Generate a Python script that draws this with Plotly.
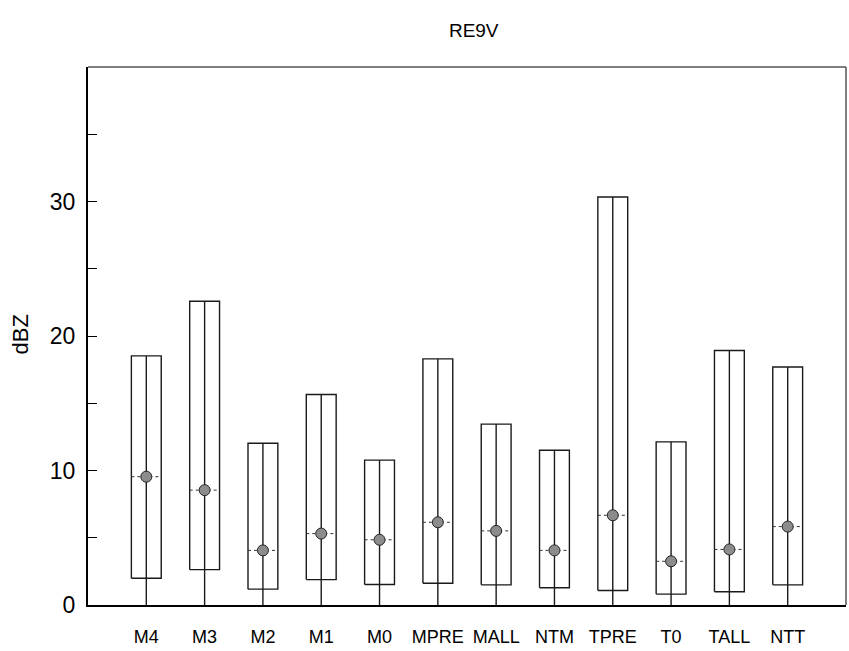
import plotly.graph_objects as go

# Radar reflectivity summary per category (dBZ)
categories = ["M4", "M3", "M2", "M1", "M0", "MPRE", "MALL", "NTM", "TPRE", "T0", "TALL", "NTT"]
box_low = [1.99, 2.63, 1.18, 1.89, 1.52, 1.62, 1.50, 1.28, 1.08, 0.81, 0.98, 1.50]
box_high = [18.52, 22.58, 12.03, 15.65, 10.77, 18.30, 13.45, 11.51, 30.33, 12.13, 18.92, 17.69]
center_val = [9.54, 8.54, 4.06, 5.31, 4.85, 6.15, 5.51, 4.06, 6.67, 3.25, 4.13, 5.83]
whisker_low = [0] * 12

y_tickvals = [0, 5, 10, 15, 20, 25, 30, 35]
y_ticktext = ["0", "", "10", "", "20", "", "30", ""]

FONT = "Arial, Liberation Sans, sans-serif"
HALF_W = 0.256
pos = list(range(1, len(categories) + 1))

fig = go.Figure()

box_x, box_y = [], []
wh_x, wh_y = [], []
med_x, med_y = [], []
for p, lo, hi, wl, c in zip(pos, box_low, box_high, whisker_low, center_val):
    box_x += [p - HALF_W, p + HALF_W, p + HALF_W, p - HALF_W, p - HALF_W, None]
    box_y += [lo, lo, hi, hi, lo, None]
    wh_x += [p, p, None]
    wh_y += [wl, hi, None]
    med_x += [p - HALF_W, p + HALF_W, None]
    med_y += [c, c, None]

# vertical line from the minimum through the box to its top
fig.add_trace(go.Scatter(x=wh_x, y=wh_y, mode="lines",
                         line=dict(color="#1a1a1a", width=1.4),
                         hoverinfo="skip", showlegend=False))
# box outlines
fig.add_trace(go.Scatter(x=box_x, y=box_y, mode="lines",
                         line=dict(color="#1a1a1a", width=1.4),
                         hoverinfo="skip", showlegend=False))
# dotted centre level across each box
fig.add_trace(go.Scatter(x=med_x, y=med_y, mode="lines",
                         line=dict(color="#333333", width=1, dash="dot"),
                         hoverinfo="skip", showlegend=False))
# centre markers
fig.add_trace(go.Scatter(x=pos, y=center_val, mode="markers",
                         marker=dict(symbol="circle", size=11, color="#8c8c8c",
                                     line=dict(color="#222222", width=1)),
                         text=categories, showlegend=False))

fig.update_layout(
    width=849, height=651,
    margin=dict(l=88, r=3, t=67, b=46),
    paper_bgcolor="white", plot_bgcolor="white",
    font=dict(family=FONT, color="black"),
    title=dict(text="RE9V", x=0.558, xanchor="center", y=0.953, yanchor="middle",
               font=dict(family=FONT, size=19, color="black")),
    showlegend=False,
    shapes=[
        dict(type="line", xref="paper", yref="paper", x0=0, x1=1, y0=1, y1=1,
             line=dict(color="#555555", width=1.5)),
        dict(type="line", xref="paper", yref="paper", x0=1, x1=1, y0=0, y1=1,
             line=dict(color="#555555", width=1.5)),
    ],
    annotations=[
        dict(text="dBZ", textangle=-90, xref="paper", yref="paper",
             x=-0.089, y=0.502, xanchor="center", yanchor="middle", showarrow=False,
             font=dict(family=FONT, size=22, color="black")),
    ],
)

fig.update_xaxes(
    range=[0, 13], tickvals=pos, ticktext=categories,
    showgrid=False, zeroline=False, showline=True, linecolor="black", linewidth=2,
    ticks="", ticklabelstandoff=14,
    tickfont=dict(family=FONT, size=18, color="black"),
)
fig.update_yaxes(
    range=[0, 40], tickvals=y_tickvals, ticktext=y_ticktext,
    showgrid=False, zeroline=False, showline=True, linecolor="black", linewidth=2,
    ticks="inside", ticklen=9, tickwidth=1, tickcolor="black", ticklabelstandoff=6,
    tickfont=dict(family=FONT, size=23, color="black"),
)

fig.write_html("out.html")
